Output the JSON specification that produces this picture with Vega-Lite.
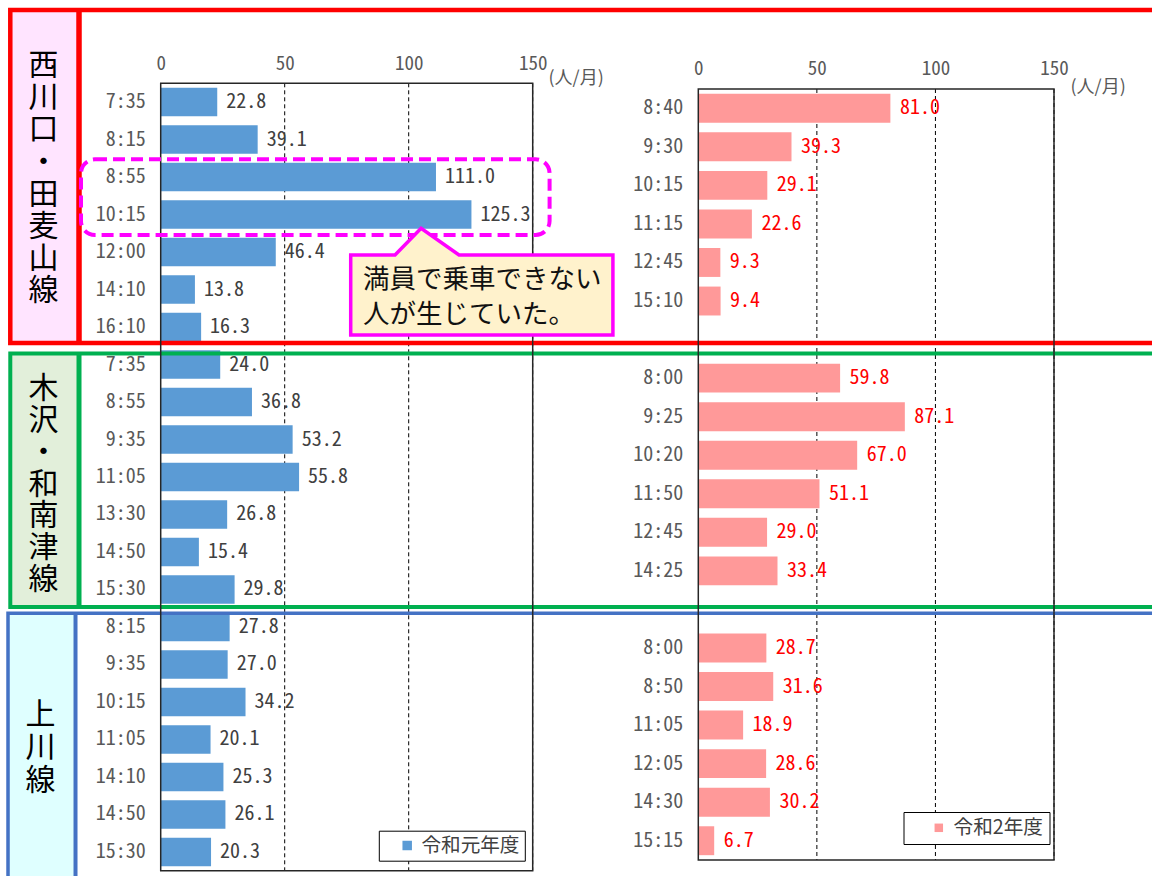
{
  "$schema": "https://vega.github.io/schema/vega-lite/v6.json",
  "width": 372,
  "height": 787.4,
  "autosize": {"type": "none"},
  "padding": {"left": 160.7, "top": 83.3, "right": 619.3, "bottom": 5.3},
  "background": "white",
  "config": {"view": {"stroke": null}, "font": "Noto Sans CJK JP"},
  "resolve": {
    "scale": {"x": "independent", "y": "independent", "color": "independent"},
    "axis": {"x": "independent", "y": "independent"},
    "legend": {"color": "independent"}
  },
  "layer": [
    {
      "data": {"values": [{"a": 1}]},
      "layer": [
        {"mark": {"type": "rule", "color": "#000", "strokeDash": [4, 3], "strokeWidth": 1},
         "encoding": {"x": {"datum": 50, "type": "quantitative", "scale": {"domain": [0, 150], "nice": false, "zero": false}, "axis": null},
                      "y": {"datum": 0, "type": "quantitative", "scale": {"domain": [0, 21], "range": [0, 787.4], "nice": false, "zero": false}, "axis": null},
                      "y2": {"datum": 21}}},
        {"mark": {"type": "rule", "color": "#000", "strokeDash": [4, 3], "strokeWidth": 1},
         "encoding": {"x": {"datum": 100, "type": "quantitative", "scale": {"domain": [0, 150], "nice": false, "zero": false}, "axis": null},
                      "y": {"datum": 0, "type": "quantitative", "scale": {"domain": [0, 21], "range": [0, 787.4], "nice": false, "zero": false}, "axis": null},
                      "y2": {"datum": 21}}},
        {"mark": {"type": "rule", "color": "#000", "strokeDash": [4, 3], "strokeWidth": 1},
         "encoding": {"x": {"datum": 150, "type": "quantitative", "scale": {"domain": [0, 150], "nice": false, "zero": false}, "axis": null},
                      "y": {"datum": 0, "type": "quantitative", "scale": {"domain": [0, 21], "range": [0, 787.4], "nice": false, "zero": false}, "axis": null},
                      "y2": {"datum": 21}}}
      ]
    },
    {
      "data": {"values": [{"a": 1}]},
      "layer": [
        {"mark": {"type": "rule", "color": "#000", "strokeDash": [4, 3], "strokeWidth": 1},
         "encoding": {"x": {"datum": 50, "type": "quantitative", "scale": {"domain": [0, 150], "range": [537.6, 893.3], "nice": false, "zero": false}, "axis": null},
                      "y": {"datum": 0, "type": "quantitative", "scale": {"domain": [0, 20], "range": [5.7, 776.7], "nice": false, "zero": false}, "axis": null},
                      "y2": {"datum": 20}}},
        {"mark": {"type": "rule", "color": "#000", "strokeDash": [4, 3], "strokeWidth": 1},
         "encoding": {"x": {"datum": 100, "type": "quantitative", "scale": {"domain": [0, 150], "range": [537.6, 893.3], "nice": false, "zero": false}, "axis": null},
                      "y": {"datum": 0, "type": "quantitative", "scale": {"domain": [0, 20], "range": [5.7, 776.7], "nice": false, "zero": false}, "axis": null},
                      "y2": {"datum": 20}}},
        {"mark": {"type": "rule", "color": "#000", "strokeDash": [4, 3], "strokeWidth": 1},
         "encoding": {"x": {"datum": 150, "type": "quantitative", "scale": {"domain": [0, 150], "range": [537.6, 893.3], "nice": false, "zero": false}, "axis": null},
                      "y": {"datum": 0, "type": "quantitative", "scale": {"domain": [0, 20], "range": [5.7, 776.7], "nice": false, "zero": false}, "axis": null},
                      "y2": {"datum": 20}}}
      ]
    },
    {
      "data": {"values": [
        {"k": "01 7:35", "route": "西川口・田麦山線", "year": "令和元年度", "v": 22.8},
        {"k": "02 8:15", "route": "西川口・田麦山線", "year": "令和元年度", "v": 39.1},
        {"k": "03 8:55", "route": "西川口・田麦山線", "year": "令和元年度", "v": 111.0},
        {"k": "04 10:15", "route": "西川口・田麦山線", "year": "令和元年度", "v": 125.3},
        {"k": "05 12:00", "route": "西川口・田麦山線", "year": "令和元年度", "v": 46.4},
        {"k": "06 14:10", "route": "西川口・田麦山線", "year": "令和元年度", "v": 13.8},
        {"k": "07 16:10", "route": "西川口・田麦山線", "year": "令和元年度", "v": 16.3},
        {"k": "08 7:35", "route": "木沢・和南津線", "year": "令和元年度", "v": 24.0},
        {"k": "09 8:55", "route": "木沢・和南津線", "year": "令和元年度", "v": 36.8},
        {"k": "10 9:35", "route": "木沢・和南津線", "year": "令和元年度", "v": 53.2},
        {"k": "11 11:05", "route": "木沢・和南津線", "year": "令和元年度", "v": 55.8},
        {"k": "12 13:30", "route": "木沢・和南津線", "year": "令和元年度", "v": 26.8},
        {"k": "13 14:50", "route": "木沢・和南津線", "year": "令和元年度", "v": 15.4},
        {"k": "14 15:30", "route": "木沢・和南津線", "year": "令和元年度", "v": 29.8},
        {"k": "15 8:15", "route": "上川線", "year": "令和元年度", "v": 27.8},
        {"k": "16 9:35", "route": "上川線", "year": "令和元年度", "v": 27.0},
        {"k": "17 10:15", "route": "上川線", "year": "令和元年度", "v": 34.2},
        {"k": "18 11:05", "route": "上川線", "year": "令和元年度", "v": 20.1},
        {"k": "19 14:10", "route": "上川線", "year": "令和元年度", "v": 25.3},
        {"k": "20 14:50", "route": "上川線", "year": "令和元年度", "v": 26.1},
        {"k": "21 15:30", "route": "上川線", "year": "令和元年度", "v": 20.3}
      ]},
      "encoding": {
        "y": {"field": "k", "type": "nominal",
              "scale": {"domain": ["01 7:35","02 8:15","03 8:55","04 10:15","05 12:00","06 14:10","07 16:10","08 7:35","09 8:55","10 9:35","11 11:05","12 13:30","13 14:50","14 15:30","15 8:15","16 9:35","17 10:15","18 11:05","19 14:10","20 14:50","21 15:30"],
                        "paddingInner": 0.24, "paddingOuter": 0.12},
              "axis": {"orient": "left", "title": null, "domain": false, "ticks": false, "tickSize": 0,
                       "labelExpr": "substring(datum.value, 3)",
                       "labelFont": "Noto Sans Mono CJK JP, Noto Sans CJK JP, sans-serif", "labelFontSize": 20,
                       "labelColor": "#595959", "labelPadding": 15.5, "labelBaseline": "middle", "labelAlign": "right", "labelOverlap": false}},
        "x": {"field": "v", "type": "quantitative",
              "scale": {"domain": [0, 150], "nice": false, "zero": false},
              "axis": {"orient": "top", "values": [0, 50, 100, 150], "grid": false, "domain": false, "ticks": false, "tickSize": 0,
                       "labelFont": "Noto Sans Mono CJK JP, Noto Sans CJK JP, sans-serif", "labelFontSize": 19,
                       "labelColor": "#595959", "labelPadding": 19.7, "labelBaseline": "middle", "labelFlush": false, "labelOverlap": false,
                       "title": "(人/月)", "titleX": 387.3, "titleY": -5.2, "titleAlign": "left", "titleAnchor": "start", "titleBaseline": "middle",
                       "titleFontSize": 18, "titleFontWeight": "normal", "titleColor": "#595959", "titleFont": "Noto Sans CJK JP", "titleAngle": 0}}
      },
      "layer": [
        {"mark": {"type": "bar", "orient": "horizontal"},
         "encoding": {"color": {"field": "year", "type": "nominal",
                                "scale": {"domain": ["令和元年度"], "range": ["#5B9BD5"]},
                                "legend": {"orient": "none", "legendX": 218.1, "legendY": 747.4, "title": null, "direction": "vertical",
                                           "strokeColor": "#000", "fillColor": "white", "padding": 5,
                                           "symbolType": "square", "symbolSize": 90, "symbolOffset": 13.6, "symbolStrokeWidth": 0,
                                           "labelOffset": 4.5, "labelFontSize": 19.6, "labelFont": "Noto Sans CJK JP", "labelColor": "#404040",
                                           "labelExpr": "datum.label + '\u2002'"}}}},
        {"mark": {"type": "text", "align": "left", "baseline": "middle", "dx": 9, "fontSize": 20,
                  "font": "Noto Sans Mono CJK JP, Noto Sans CJK JP, sans-serif", "color": "#404040"},
         "encoding": {"text": {"field": "v", "type": "quantitative", "format": ".1f"}}}
      ]
    },
    {
      "data": {"values": [
        {"k": "01 8:40", "route": "西川口・田麦山線", "year": "令和2年度", "v": 81.0},
        {"k": "02 9:30", "route": "西川口・田麦山線", "year": "令和2年度", "v": 39.3},
        {"k": "03 10:15", "route": "西川口・田麦山線", "year": "令和2年度", "v": 29.1},
        {"k": "04 11:15", "route": "西川口・田麦山線", "year": "令和2年度", "v": 22.6},
        {"k": "05 12:45", "route": "西川口・田麦山線", "year": "令和2年度", "v": 9.3},
        {"k": "06 15:10", "route": "西川口・田麦山線", "year": "令和2年度", "v": 9.4},
        {"k": "08 8:00", "route": "木沢・和南津線", "year": "令和2年度", "v": 59.8},
        {"k": "09 9:25", "route": "木沢・和南津線", "year": "令和2年度", "v": 87.1},
        {"k": "10 10:20", "route": "木沢・和南津線", "year": "令和2年度", "v": 67.0},
        {"k": "11 11:50", "route": "木沢・和南津線", "year": "令和2年度", "v": 51.1},
        {"k": "12 12:45", "route": "木沢・和南津線", "year": "令和2年度", "v": 29.0},
        {"k": "13 14:25", "route": "木沢・和南津線", "year": "令和2年度", "v": 33.4},
        {"k": "15 8:00", "route": "上川線", "year": "令和2年度", "v": 28.7},
        {"k": "16 8:50", "route": "上川線", "year": "令和2年度", "v": 31.6},
        {"k": "17 11:05", "route": "上川線", "year": "令和2年度", "v": 18.9},
        {"k": "18 12:05", "route": "上川線", "year": "令和2年度", "v": 28.6},
        {"k": "19 14:30", "route": "上川線", "year": "令和2年度", "v": 30.2},
        {"k": "20 15:15", "route": "上川線", "year": "令和2年度", "v": 6.7}
      ]},
      "encoding": {
        "y": {"field": "k", "type": "nominal",
              "scale": {"domain": ["01 8:40","02 9:30","03 10:15","04 11:15","05 12:45","06 15:10","07","08 8:00","09 9:25","10 10:20","11 11:50","12 12:45","13 14:25","14","15 8:00","16 8:50","17 11:05","18 12:05","19 14:30","20 15:15"],
                        "range": [5.7, 776.7], "paddingInner": 0.25, "paddingOuter": 0.125},
              "axis": {"orient": "left", "offset": -537.6, "title": null, "domain": false, "ticks": false, "tickSize": 0,
                       "labelExpr": "substring(datum.value, 3)",
                       "labelFont": "Noto Sans Mono CJK JP, Noto Sans CJK JP, sans-serif", "labelFontSize": 20,
                       "labelColor": "#595959", "labelPadding": 15.5, "labelBaseline": "middle", "labelAlign": "right", "labelOverlap": false}},
        "x": {"field": "v", "type": "quantitative",
              "scale": {"domain": [0, 150], "range": [537.6, 893.3], "nice": false, "zero": false},
              "axis": {"orient": "top", "values": [0, 50, 100, 150], "grid": false, "domain": false, "ticks": false, "tickSize": 0,
                       "labelFont": "Noto Sans Mono CJK JP, Noto Sans CJK JP, sans-serif", "labelFontSize": 19,
                       "labelColor": "#595959", "labelPadding": 14.4, "labelBaseline": "middle", "labelFlush": false, "labelOverlap": false,
                       "title": "(人/月)", "titleX": 909.3, "titleY": 3.8, "titleAlign": "left", "titleAnchor": "start", "titleBaseline": "middle",
                       "titleFontSize": 18, "titleFontWeight": "normal", "titleColor": "#595959", "titleFont": "Noto Sans CJK JP", "titleAngle": 0}}
      },
      "layer": [
        {"mark": {"type": "bar", "orient": "horizontal"},
         "encoding": {"color": {"field": "year", "type": "nominal",
                                "scale": {"domain": ["令和2年度"], "range": ["#FF9999"]},
                                "legend": {"orient": "none", "legendX": 742.8, "legendY": 728.7, "title": null, "direction": "vertical",
                                           "strokeColor": "#000", "fillColor": "white", "padding": 6,
                                           "symbolType": "square", "symbolSize": 72, "symbolOffset": 19.5, "symbolStrokeWidth": 0,
                                           "labelOffset": 5, "labelFontSize": 19.6, "labelFont": "Noto Sans CJK JP", "labelColor": "#404040",
                                           "labelExpr": "datum.label + '\u2002\u2009'"}}}},
        {"mark": {"type": "text", "align": "left", "baseline": "middle", "dx": 9.5, "fontSize": 20,
                  "font": "Noto Sans Mono CJK JP, Noto Sans CJK JP, sans-serif", "color": "#FF0000"},
         "encoding": {"text": {"field": "v", "type": "quantitative", "format": ".1f"}}}
      ]
    },
    {
      "data": {"values": [{"a": 1}]},
      "layer": [
        {"mark": {"type": "rect", "color": "#FFE4FF", "strokeWidth": 0},
         "encoding": {"x": {"datum": -60.65, "type": "quantitative", "scale": {"domain": [0, 150], "nice": false, "zero": false}, "axis": null}, "x2": {"datum": -32.94},
                      "y": {"datum": -1.955, "type": "quantitative", "scale": {"domain": [0, 21], "range": [0, 787.4], "nice": false, "zero": false}, "axis": null}, "y2": {"datum": 6.926}}},
        {"mark": {"type": "rect", "color": "#E2EFDA", "strokeWidth": 0},
         "encoding": {"x": {"datum": -60.65, "type": "quantitative", "scale": {"domain": [0, 150], "nice": false, "zero": false}, "axis": null}, "x2": {"datum": -32.94},
                      "y": {"datum": 7.206, "type": "quantitative", "scale": {"domain": [0, 21], "range": [0, 787.4], "nice": false, "zero": false}, "axis": null}, "y2": {"datum": 13.967}}},
        {"mark": {"type": "rect", "color": "#DFFFFF", "strokeWidth": 0},
         "encoding": {"x": {"datum": -61.57, "type": "quantitative", "scale": {"domain": [0, 150], "nice": false, "zero": false}, "axis": null}, "x2": {"datum": -34.35},
                      "y": {"datum": 14.135, "type": "quantitative", "scale": {"domain": [0, 21], "range": [0, 787.4], "nice": false, "zero": false}, "axis": null}, "y2": {"datum": 21.52}}},
        {"mark": {"type": "rule", "color": "#FF0000", "strokeWidth": 5.5},
         "encoding": {"x": {"datum": -32.94, "type": "quantitative", "scale": {"domain": [0, 150], "nice": false, "zero": false}, "axis": null},
                      "y": {"datum": -1.955, "type": "quantitative", "scale": {"domain": [0, 21], "range": [0, 787.4], "nice": false, "zero": false}, "axis": null}, "y2": {"datum": 6.926}}},
        {"mark": {"type": "rule", "color": "#00B050", "strokeWidth": 5},
         "encoding": {"x": {"datum": -32.94, "type": "quantitative", "scale": {"domain": [0, 150], "nice": false, "zero": false}, "axis": null},
                      "y": {"datum": 7.206, "type": "quantitative", "scale": {"domain": [0, 21], "range": [0, 787.4], "nice": false, "zero": false}, "axis": null}, "y2": {"datum": 13.967}}},
        {"mark": {"type": "rule", "color": "#4472C4", "strokeWidth": 4},
         "encoding": {"x": {"datum": -34.35, "type": "quantitative", "scale": {"domain": [0, 150], "nice": false, "zero": false}, "axis": null},
                      "y": {"datum": 14.135, "type": "quantitative", "scale": {"domain": [0, 21], "range": [0, 787.4], "nice": false, "zero": false}, "axis": null}, "y2": {"datum": 21.52}}},
        {"mark": {"type": "rect", "filled": false, "color": "#FF0000", "strokeWidth": 4.5},
         "encoding": {"x": {"datum": -60.65, "type": "quantitative", "scale": {"domain": [0, 150], "nice": false, "zero": false}, "axis": null}, "x2": {"datum": 407},
                      "y": {"datum": -1.955, "type": "quantitative", "scale": {"domain": [0, 21], "range": [0, 787.4], "nice": false, "zero": false}, "axis": null}, "y2": {"datum": 6.926}}},
        {"mark": {"type": "rect", "filled": false, "color": "#00B050", "strokeWidth": 4},
         "encoding": {"x": {"datum": -60.65, "type": "quantitative", "scale": {"domain": [0, 150], "nice": false, "zero": false}, "axis": null}, "x2": {"datum": 407},
                      "y": {"datum": 7.206, "type": "quantitative", "scale": {"domain": [0, 21], "range": [0, 787.4], "nice": false, "zero": false}, "axis": null}, "y2": {"datum": 13.967}}},
        {"mark": {"type": "rect", "filled": false, "color": "#4472C4", "strokeWidth": 3.5},
         "encoding": {"x": {"datum": -61.57, "type": "quantitative", "scale": {"domain": [0, 150], "nice": false, "zero": false}, "axis": null}, "x2": {"datum": 407},
                      "y": {"datum": 14.135, "type": "quantitative", "scale": {"domain": [0, 21], "range": [0, 787.4], "nice": false, "zero": false}, "axis": null}, "y2": {"datum": 21.52}}},
        {"mark": {"type": "rect", "filled": false, "color": "#262626", "strokeWidth": 1.5},
         "encoding": {"x": {"datum": 0, "type": "quantitative", "scale": {"domain": [0, 150], "nice": false, "zero": false}, "axis": null}, "x2": {"datum": 150},
                      "y": {"datum": 0, "type": "quantitative", "scale": {"domain": [0, 21], "range": [0, 787.4], "nice": false, "zero": false}, "axis": null}, "y2": {"datum": 21}}},
        {"mark": {"type": "rect", "filled": false, "color": "#FF00FF", "strokeWidth": 4, "strokeDash": [12, 6], "cornerRadius": 14},
         "encoding": {"x": {"datum": -32.14, "type": "quantitative", "scale": {"domain": [0, 150], "nice": false, "zero": false}, "axis": null}, "x2": {"datum": 156.81},
                      "y": {"datum": 2.027, "type": "quantitative", "scale": {"domain": [0, 21], "range": [0, 787.4], "nice": false, "zero": false}, "axis": null}, "y2": {"datum": 4.046}}},
        {"mark": {"type": "point", "shape": "M-1,-0.2033L-0.6621,-0.2033L-0.463,-0.407L-0.1739,-0.2033L1,-0.2033L1,0.407L-1,0.407Z",
                  "size": 68749, "filled": true, "fill": "#FFF2CC", "stroke": "#FF00FF", "strokeWidth": 3.5, "opacity": 1, "fillOpacity": 1, "strokeOpacity": 1},
         "encoding": {"x": {"datum": 129.48, "type": "quantitative", "scale": {"domain": [0, 150], "nice": false, "zero": false}, "axis": null},
                      "y": {"datum": 5.290, "type": "quantitative", "scale": {"domain": [0, 21], "range": [0, 787.4], "nice": false, "zero": false}, "axis": null}}},
        {"mark": {"type": "text", "text": "満員で乗車できない", "align": "left", "baseline": "middle", "fontSize": 26.5, "font": "Noto Sans CJK JP", "color": "#111111"},
         "encoding": {"x": {"datum": 81.57, "type": "quantitative", "scale": {"domain": [0, 150], "nice": false, "zero": false}, "axis": null},
                      "y": {"datum": 5.257, "type": "quantitative", "scale": {"domain": [0, 21], "range": [0, 787.4], "nice": false, "zero": false}, "axis": null}}},
        {"mark": {"type": "text", "text": "人が生じていた。", "align": "left", "baseline": "middle", "fontSize": 26.5, "font": "Noto Sans CJK JP", "color": "#111111"},
         "encoding": {"x": {"datum": 81.57, "type": "quantitative", "scale": {"domain": [0, 150], "nice": false, "zero": false}, "axis": null},
                      "y": {"datum": 6.182, "type": "quantitative", "scale": {"domain": [0, 21], "range": [0, 787.4], "nice": false, "zero": false}, "axis": null}}},
        {"mark": {"type": "text", "text": "西\n川\n口\n・\n田\n麦\n山\n線", "lineBreak": "\n", "lineHeight": 32.14, "align": "center", "baseline": "top", "fontSize": 30, "font": "Noto Sans CJK JP", "color": "#000000"},
         "encoding": {"x": {"datum": -47.26, "type": "quantitative", "scale": {"domain": [0, 150], "nice": false, "zero": false}, "axis": null},
                      "y": {"datum": -0.856, "type": "quantitative", "scale": {"domain": [0, 21], "range": [0, 787.4], "nice": false, "zero": false}, "axis": null}}},
        {"mark": {"type": "text", "text": "木\n沢\n・\n和\n南\n津\n線", "lineBreak": "\n", "lineHeight": 31.7, "align": "center", "baseline": "top", "fontSize": 30, "font": "Noto Sans CJK JP", "color": "#000000"},
         "encoding": {"x": {"datum": -47.26, "type": "quantitative", "scale": {"domain": [0, 150], "nice": false, "zero": false}, "axis": null},
                      "y": {"datum": 7.764, "type": "quantitative", "scale": {"domain": [0, 21], "range": [0, 787.4], "nice": false, "zero": false}, "axis": null}}},
        {"mark": {"type": "text", "text": "上\n川\n線", "lineBreak": "\n", "lineHeight": 32.75, "align": "center", "baseline": "top", "fontSize": 30, "font": "Noto Sans CJK JP", "color": "#000000"},
         "encoding": {"x": {"datum": -48.47, "type": "quantitative", "scale": {"domain": [0, 150], "nice": false, "zero": false}, "axis": null},
                      "y": {"datum": 16.453, "type": "quantitative", "scale": {"domain": [0, 21], "range": [0, 787.4], "nice": false, "zero": false}, "axis": null}}}
      ]
    },
    {
      "data": {"values": [{"a": 1}]},
      "mark": {"type": "rect", "filled": false, "color": "#262626", "strokeWidth": 1.5},
      "encoding": {"x": {"datum": 0, "type": "quantitative", "scale": {"domain": [0, 150], "range": [537.6, 893.3], "nice": false, "zero": false}, "axis": null}, "x2": {"datum": 150},
                   "y": {"datum": 0, "type": "quantitative", "scale": {"domain": [0, 20], "range": [5.7, 776.7], "nice": false, "zero": false}, "axis": null}, "y2": {"datum": 20}}
    }
  ]
}
